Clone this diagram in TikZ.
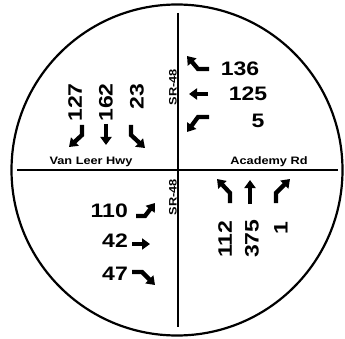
\documentclass[tikz,border=0pt]{standalone}
\usepackage{fontspec}
\setmainfont{Liberation Sans}[FakeStretch=1.18]
\usepackage{tikz}
\usetikzlibrary{arrows.meta}

\begin{document}
\begin{tikzpicture}[
	x=1pt, y=-1pt,
	num/.style = {font=\fontsize{19.5}{20}\selectfont\bfseries, inner sep=0},
	rnum/.style = {num, rotate=90},
	road/.style = {font=\fontsize{10.8}{11}\selectfont\bfseries, inner sep=0},
	rroad/.style = {road, rotate=90},
	mv/.style = {line width=4.3pt, line join=miter, -{Triangle[width=11pt, length=8pt]}}
	]
	\useasboundingbox (0,0) rectangle (345,339);
	
	%Roads
	\draw[line width=2.2pt]	(177,170) circle (165.5);
	\draw[line width=1.6pt]	(17,170) -- (338,170);
	\draw[line width=1.6pt]	(178,13) -- (178,327);
	
	%Nodes
	\node[road]		(vl)	at	(91, 162)	{Van Leer Hwy};
	\node[road]		(ac)	at	(269, 162)	{Academy Rd};
	\node[rroad]	(sr-n)	at	(173, 87)	{SR-48};
	\node[rroad]	(sr-s)	at	(173, 197)	{SR-48};
	
	\node[rnum, anchor=east]	(sb-r)	at	(75, 83)	{127};
	\node[rnum, anchor=east]	(sb-t)	at	(106, 83)	{162};
	\node[rnum, anchor=east]	(sb-l)	at	(137, 84)	{23};
	
	\node[num]	(wb-r)	at	(240, 69)	{136};
	\node[num]	(wb-t)	at	(248, 94)	{125};
	\node[num]	(wb-l)	at	(258, 121)	{5};
	
	\node[num, anchor=east]	(eb-l)	at	(128, 211)	{110};
	\node[num, anchor=east]	(eb-t)	at	(128, 241)	{42};
	\node[num, anchor=east]	(eb-r)	at	(128, 274)	{47};
	
	\node[rnum, anchor=west]	(nb-l)	at	(225, 258)	{112};
	\node[rnum, anchor=west]	(nb-t)	at	(252, 258)	{375};
	\node[rnum]					(nb-r)	at	(281, 228)	{1};
	
	%Arrows
	\draw[mv]	(82, 125) -- (82, 135) -- (69, 147);
	\draw[mv]	(106, 124) -- (106, 145);
	\draw[mv]	(131, 125) -- (131, 135) -- (145, 148);
	
	\draw[mv]	(209, 69) -- (198, 69) -- (187, 56);
	\draw[mv]	(208, 94) -- (189, 94);
	\draw[mv]	(209, 117) -- (198, 117) -- (187, 132);
	
	\draw[mv]	(136, 216) -- (145, 216) -- (155, 203);
	\draw[mv]	(132, 244) -- (150, 244);
	\draw[mv]	(132, 272) -- (142, 272) -- (155, 285);
	
	\draw[mv]	(230, 203) -- (230, 193) -- (217, 179);
	\draw[mv]	(250, 204) -- (250, 180);
	\draw[mv]	(276, 203) -- (276, 193) -- (290, 179);
\end{tikzpicture}
\end{document}
